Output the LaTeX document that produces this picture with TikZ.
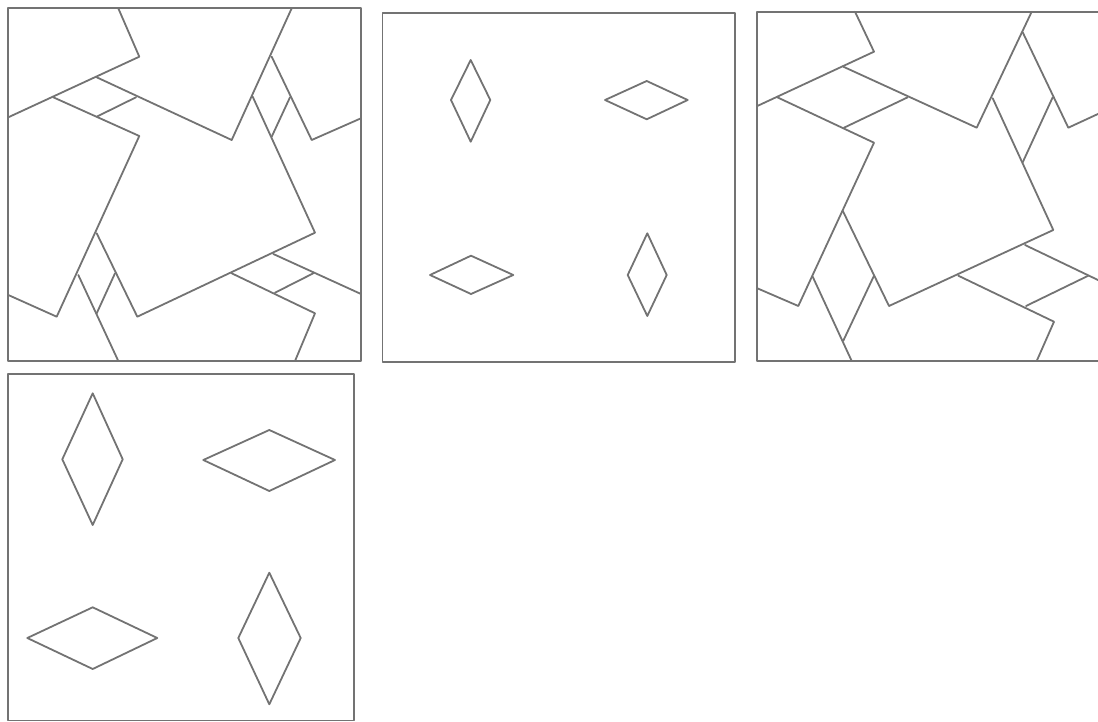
\documentclass[tikz,border=0pt]{standalone}
\usepackage{tikz}
\begin{document}
\begin{tikzpicture}[x=1pt,y=-1pt,
  ln/.style={draw=black!55,line width=1.8pt,line cap=round,line join=round}]
\useasboundingbox (0,0) rectangle (1098,722);
% ---------- panel 1 ----------
\draw[ln] (8.3,8.3) rectangle (361,361);
\draw[ln] (118.3,8.3) -- (139.3,56.7) -- (8.3,117.3);
\draw[ln] (291.7,8.3) -- (231.7,140) -- (96.7,77.3);
\draw[ln] (53.3,97.3) -- (139.3,136) -- (56.7,316.7) -- (8.3,295);
\draw[ln] (96.7,116.7) -- (136,97.3);
\draw[ln] (271.7,56.7) -- (311.7,140) -- (361,118.3);
\draw[ln] (252.7,96.7) -- (315,232.7) -- (137.3,316.7) -- (96.7,233.3);
\draw[ln] (271.7,136.7) -- (290,97.3);
\draw[ln] (78.3,275) -- (118.3,361);
\draw[ln] (96.7,313.3) -- (115,273.3);
\draw[ln] (273.3,254) -- (361,294);
\draw[ln] (231.7,273.3) -- (315,313.3) -- (295,361);
\draw[ln] (275,292.7) -- (313.3,273.3);
% ---------- panel 2 ----------
\draw[ln] (382.5,13.3) rectangle (735,361.7);
\draw[ln] (470.7,60) -- (490.3,100) -- (470.7,141.7) -- (451,100) -- cycle;
\draw[ln] (605,100) -- (646.7,81) -- (687.7,100) -- (646.7,119.3) -- cycle;
\draw[ln] (430,275) -- (471,255.7) -- (513.3,275) -- (471,294) -- cycle;
\draw[ln] (647.3,233.3) -- (666.7,275) -- (647.3,316) -- (627.7,275) -- cycle;
% ---------- panel 3 ----------
\draw[ln] (1099,11.7) -- (757.3,11.7) -- (757.3,361) -- (1099,361);
\draw[ln] (855,11.7) -- (874,51.7) -- (757.3,106);
\draw[ln] (1031.7,11.7) -- (976.7,127.7) -- (843.3,66.7);
\draw[ln] (777.3,97.3) -- (874,142.7) -- (798.3,306) -- (757.3,288.3);
\draw[ln] (844,127.7) -- (907.7,97.3);
\draw[ln] (1022.7,32.3) -- (1068.3,127.7) -- (1099,113.5);
\draw[ln] (992.7,98.3) -- (1053.3,230) -- (889,306) -- (842.7,210.7);
\draw[ln] (1022.7,162.3) -- (1052.7,97.3);
\draw[ln] (812.7,276.7) -- (851.7,361);
\draw[ln] (843.3,340.7) -- (874,275.7);
\draw[ln] (1025,245) -- (1099,280.5);
\draw[ln] (958.3,275.7) -- (1054,321.7) -- (1036.7,361);
\draw[ln] (1026,306) -- (1088.3,275.7);
% ---------- panel 4 ----------
\draw[ln] (8.3,374) rectangle (354,720.5);
\draw[ln] (92.7,393.3) -- (122.7,459.3) -- (92.7,525) -- (62.3,459.3) -- cycle;
\draw[ln] (203.3,460) -- (269.3,430) -- (335,460) -- (269.3,491) -- cycle;
\draw[ln] (27.3,638) -- (92.7,607.3) -- (157.3,638) -- (92.7,669) -- cycle;
\draw[ln] (269.3,572.7) -- (300.7,638) -- (269.3,704.3) -- (238.3,638) -- cycle;
\end{tikzpicture}
\end{document}
